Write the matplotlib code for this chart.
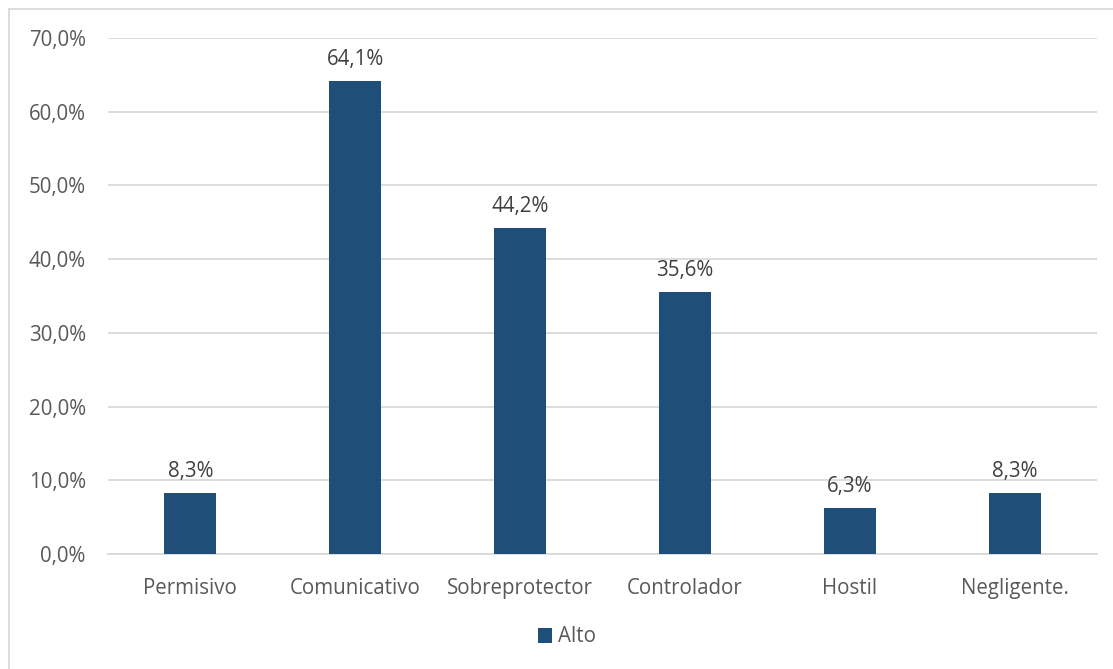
import matplotlib.pyplot as plt
from matplotlib.patches import Rectangle
from matplotlib.ticker import FuncFormatter

plt.rcParams['font.family'] = ['Open Sans', 'DejaVu Sans']

categorias = ["Permisivo", "Comunicativo", "Sobreprotector", "Controlador", "Hostil", "Negligente."]
alto = [8.3, 64.1, 44.2, 35.6, 6.3, 8.3]
serie = "Alto"

W, H = 1113, 669
fig = plt.figure(figsize=(W / 100, H / 100), dpi=100)

# plot area in pixels: x 108..1097, y 38 (70%) .. 554 (0%)
ax = fig.add_axes([108 / W, 1 - 554 / H, (1097 - 108) / W, (554 - 38) / H])

gris = '#595959'
fs = 14.8
x = range(len(categorias))
barras = ax.bar(x, alto, width=0.315, color='#1F4E79', zorder=3, label=serie)

for b, v in zip(barras, alto):
    ax.text(b.get_x() + b.get_width() / 2, v + 1.5, f"{v:.1f}%".replace('.', ','),
            ha='center', va='bottom', fontsize=fs, color='#404040')

ax.set_xlim(-0.5, len(categorias) - 0.5)
ax.set_ylim(0, 70)
ax.set_yticks(range(0, 71, 10))
ax.yaxis.set_major_formatter(FuncFormatter(lambda v, p: f"{v:.1f}%".replace('.', ',')))
ax.set_xticks(list(x))
ax.set_xticklabels(categorias)
ax.tick_params(axis='both', length=0, labelsize=fs, labelcolor=gris)
ax.tick_params(axis='y', pad=16)
ax.tick_params(axis='x', pad=17)

ax.grid(axis='y', color='#D9D9D9', linewidth=1.3, zorder=0)
for s in ['top', 'right', 'left']:
    ax.spines[s].set_visible(False)
ax.spines['bottom'].set_color('#D9D9D9')
ax.spines['bottom'].set_linewidth(1.3)

leg = fig.legend(loc='center', bbox_to_anchor=(567 / W, 1 - 637 / H), frameon=False,
                 fontsize=fs, handlelength=0.7, handleheight=0.7, handletextpad=0.3)
for t in leg.get_texts():
    t.set_color(gris)

# outer chart border
fig.patches.append(Rectangle((9 / W, -0.05), 1.2, 1 - 9 / H + 0.05, transform=fig.transFigure,
                             fill=False, edgecolor='#D9D9D9', linewidth=1.3))

fig.savefig('out.png', dpi=100)
